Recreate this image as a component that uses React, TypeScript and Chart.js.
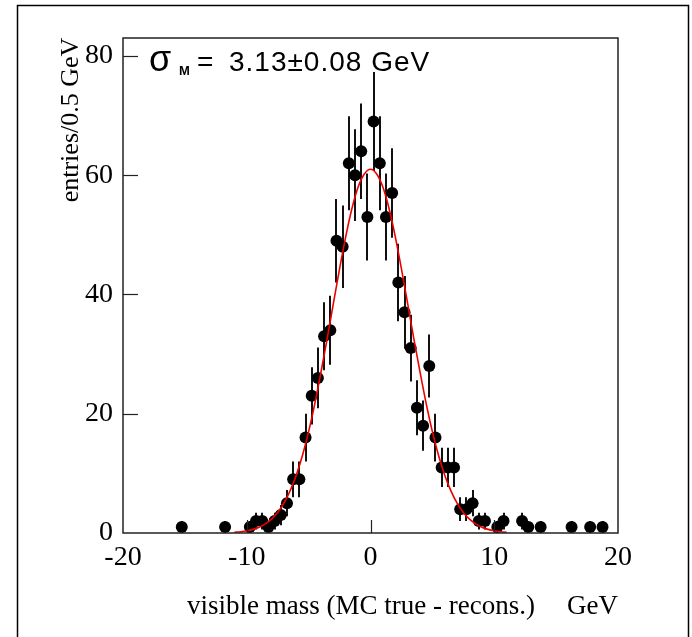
import React, { useEffect, useRef } from 'react';
import { Chart, registerables } from 'chart.js';

Chart.register(...registerables);

// Histogram bin centres (GeV) and entries per 0.5 GeV bin
const binCenters = [
  -15.25, -11.75, -9.75, -9.25, -8.75, -8.25, -7.75, -7.25, -6.75, -6.25,
  -5.75, -5.25, -4.75, -4.25, -3.75, -3.25, -2.75, -2.25, -1.75, -1.25,
  -0.75, -0.25, 0.25, 0.75, 1.25, 1.75, 2.25, 2.75, 3.25, 3.75,
  4.25, 4.75, 5.25, 5.75, 6.25, 6.75, 7.25, 7.75, 8.25, 8.75,
  9.25, 10.25, 10.75, 12.25, 12.75, 13.75, 16.25, 17.75, 18.75,
];
const entries = [
  1, 1, 1, 2, 2, 1, 2, 3, 5, 9,
  9, 16, 23, 26, 33, 34, 49, 48, 62, 60,
  64, 53, 69, 62, 53, 57, 42, 37, 31, 21,
  18, 28, 16, 11, 11, 11, 4, 4, 5, 2,
  2, 1, 2, 2, 1, 1, 1, 1, 1,
];
const errors = [
  1, 1, 1, 1.4, 1.4, 1, 1.4, 1.7, 2.2, 3,
  3, 4, 4.8, 5.1, 5.7, 5.8, 7, 6.9, 7.9, 7.7,
  8, 7.3, 8.3, 7.9, 7.3, 7.5, 6.5, 6.1, 5.6, 4.6,
  4.2, 5.3, 4, 3.3, 3.3, 3.3, 2, 2, 2.2, 1.4,
  1.4, 1, 1.4, 1.4, 1, 1, 1, 1, 1,
];

// Red fit curve
const fitX = [
  -11, -10.5, -10, -9.5, -9, -8.5, -8, -7.5, -7, -6.5, -6, -5.5, -5, -4.5, -4, -3.5,
  -3, -2.5, -2, -1.5, -1, -0.5, 0, 0.5, 1, 1.5, 2, 2.5, 3, 3.5, 4, 4.5, 5, 5.5,
  6, 6.5, 7, 7.5, 8, 8.5, 9, 9.5, 10, 10.5, 11,
];
const fitY = [
  0.13, 0.22, 0.37, 0.61, 0.98, 1.53, 2.32, 3.45, 5.0, 7.06, 9.7, 13.0, 17.0, 21.7, 27.0, 32.6,
  38.5, 44.3, 49.7, 54.4, 58.0, 60.2, 61.0, 60.2, 58.0, 54.4, 49.7, 44.3, 38.5, 32.6, 27.0, 21.7, 17.0, 13.0,
  9.7, 7.06, 5.0, 3.45, 2.32, 1.53, 0.98, 0.61, 0.37, 0.22, 0.13,
];

const xTicks = [-20, -10, 0, 10, 20];
const yTicks = [0, 20, 40, 60, 80];
const xTitle = 'visible mass (MC true - recons.)';
const xUnit = 'GeV';
const yTitle = 'entries/0.5 GeV';
const sigmaSymbol = 'σ';
const sigmaSub = 'M';
const sigmaValue = '3.13±0.08 GeV';

const SERIF = '"Liberation Serif", "Times New Roman", serif';
const SANS = '"Liberation Sans", Arial, sans-serif';

export default function App() {
  const ref = useRef<HTMLCanvasElement>(null);

  useEffect(() => {
    const canvas = ref.current;
    if (!canvas) return;

    const decor = {
      id: 'decor',
      beforeDatasetsDraw(chart: any) {
        const ctx = chart.ctx;
        const xs = chart.scales.x;
        const ys = chart.scales.y;
        const a = chart.chartArea;
        ctx.save();
        ctx.beginPath();
        ctx.rect(a.left, a.top, a.right - a.left, a.bottom - a.top);
        ctx.clip();
        ctx.strokeStyle = '#111';
        ctx.lineWidth = 2;
        binCenters.forEach((x, i) => {
          const px = Math.round(xs.getPixelForValue(x));
          ctx.beginPath();
          ctx.moveTo(px, ys.getPixelForValue(entries[i] - errors[i]));
          ctx.lineTo(px, ys.getPixelForValue(entries[i] + errors[i]));
          ctx.stroke();
        });
        ctx.restore();
      },
      afterDraw(chart: any) {
        const ctx = chart.ctx;
        const xs = chart.scales.x;
        const ys = chart.scales.y;
        const a = chart.chartArea;
        ctx.save();
        // plot frame
        ctx.strokeStyle = '#222';
        ctx.lineWidth = 1.5;
        ctx.strokeRect(a.left, a.top, a.right - a.left, a.bottom - a.top);
        // inward ticks
        ctx.lineWidth = 1.2;
        yTicks.forEach((v) => {
          if (v === 0) return;
          const py = Math.round(ys.getPixelForValue(v)) + 0.5;
          ctx.beginPath();
          ctx.moveTo(a.left, py);
          ctx.lineTo(a.left + 15, py);
          ctx.stroke();
        });
        xTicks.forEach((v) => {
          if (v === -20 || v === 20) return;
          const px = Math.round(xs.getPixelForValue(v)) + 0.5;
          ctx.beginPath();
          ctx.moveTo(px, a.bottom);
          ctx.lineTo(px, a.bottom - 13);
          ctx.stroke();
        });
        // outer frame
        ctx.strokeStyle = '#000';
        ctx.lineWidth = 1.5;
        ctx.strokeRect(17.5, 5.5, 671, 650);

        ctx.fillStyle = '#000';
        // sigma annotation
        ctx.textBaseline = 'alphabetic';
        ctx.textAlign = 'left';
        ctx.font = `36px ${SANS}`;
        ctx.fillText(sigmaSymbol, 149, 71);
        ctx.font = `bold 13px ${SANS}`;
        ctx.fillText(sigmaSub, 179, 75);
        ctx.font = `28px ${SANS}`;
        ctx.fillText('=', 197, 71);
        (ctx as any).letterSpacing = '1px';
        ctx.fillText(sigmaValue, 229, 71);
        (ctx as any).letterSpacing = '0px';

        // x title
        ctx.font = `27px ${SERIF}`;
        ctx.textAlign = 'left';
        ctx.fillText(xTitle, 187, 614);
        ctx.textAlign = 'right';
        ctx.fillText(xUnit, 618, 614);

        // y title
        ctx.font = `26px ${SERIF}`;
        ctx.translate(78, 120);
        ctx.rotate(-Math.PI / 2);
        ctx.textAlign = 'center';
        ctx.fillText(yTitle, 0, 0);
        ctx.restore();
      },
    };

    const chart = new Chart(canvas, {
      type: 'scatter',
      data: {
        datasets: [
          {
            type: 'line',
            data: fitX.map((x, i) => ({ x, y: fitY[i] })),
            borderColor: '#ee0000',
            borderWidth: 1.6,
            pointRadius: 0,
            showLine: true,
            fill: false,
            cubicInterpolationMode: 'monotone',
          } as any,
          {
            type: 'scatter',
            data: binCenters.map((x, i) => ({ x, y: entries[i] })),
            backgroundColor: '#000',
            borderWidth: 0,
            pointRadius: 6,
            pointHoverRadius: 6,
            clip: false,
          } as any,
        ],
      },
      options: {
        animation: false,
        responsive: false,
        devicePixelRatio: 1,
        layout: { padding: { left: 0, top: 38, right: 74, bottom: 0 } },
        plugins: { legend: { display: false }, tooltip: { enabled: false } },
        events: [],
        scales: {
          x: {
            type: 'linear',
            min: -20,
            max: 20,
            grid: { display: false, drawTicks: false },
            border: { display: false },
            afterBuildTicks: (s: any) => {
              s.ticks = xTicks.map((v) => ({ value: v }));
            },
            afterFit: (s: any) => {
              s.height = 104;
              s.paddingLeft = 0;
              s.paddingRight = 0;
            },
            ticks: {
              font: { family: SERIF, size: 28 },
              color: '#000',
              padding: 8,
              maxRotation: 0,
              autoSkip: false,
            },
          },
          y: {
            type: 'linear',
            min: 0,
            max: 83,
            grid: { display: false, drawTicks: false },
            border: { display: false },
            afterBuildTicks: (s: any) => {
              s.ticks = yTicks.map((v) => ({ value: v }));
            },
            afterFit: (s: any) => {
              s.width = 123;
              s.paddingTop = 0;
              s.paddingBottom = 0;
            },
            ticks: {
              font: { family: SERIF, size: 28 },
              color: '#000',
              padding: 10,
              autoSkip: false,
            },
          },
        },
      } as any,
      plugins: [decor],
    });

    return () => chart.destroy();
  }, []);

  return (
    <canvas
      ref={ref}
      width={692}
      height={637}
      style={{ position: 'fixed', left: 0, top: 0, width: 692, height: 637 }}
    />
  );
}
